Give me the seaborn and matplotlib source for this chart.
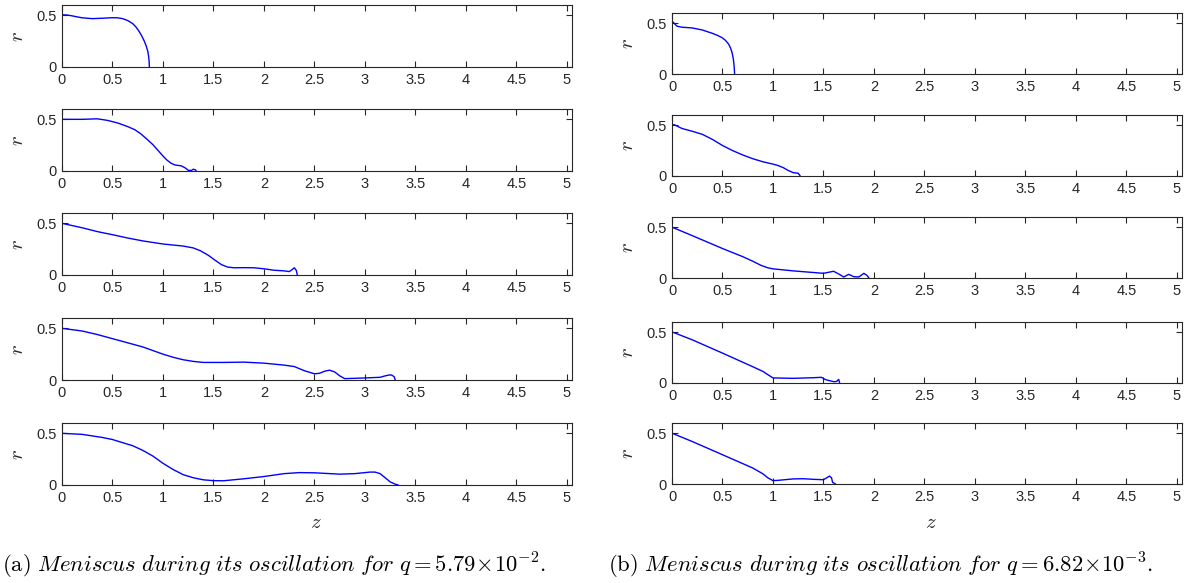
import numpy as np
import pandas as pd
import matplotlib
matplotlib.use("Agg")
import matplotlib.pyplot as plt
import seaborn as sns

# ---------------- data ----------------
# (a) q = 5.79e-2
z_a1 = [0, 0.05, 0.1, 0.15, 0.2, 0.3, 0.4, 0.5, 0.55, 0.6, 0.65, 0.7, 0.73, 0.76, 0.79, 0.815, 0.835, 0.85, 0.858, 0.863, 0.865]
r_a1 = [0.505, 0.503, 0.495, 0.485, 0.476, 0.468, 0.472, 0.477, 0.476, 0.468, 0.45, 0.42, 0.39, 0.35, 0.30, 0.25, 0.20, 0.15, 0.10, 0.05, 0.0]

z_a2 = [0, 0.2, 0.35, 0.45, 0.55, 0.65, 0.72, 0.78, 0.85, 0.9, 0.95, 1.0, 1.04, 1.08, 1.12, 1.18, 1.22, 1.25, 1.28, 1.3, 1.32, 1.33]
r_a2 = [0.50, 0.50, 0.505, 0.49, 0.465, 0.43, 0.40, 0.36, 0.30, 0.255, 0.20, 0.145, 0.105, 0.075, 0.058, 0.05, 0.03, 0.007, 0.005, 0.017, 0.012, 0.0]

z_a3 = [0, 0.2, 0.35, 0.5, 0.65, 0.8, 1.0, 1.2, 1.3, 1.37, 1.45, 1.52, 1.58, 1.64, 1.7, 1.8, 1.9, 2.0, 2.1, 2.2, 2.25, 2.28, 2.3, 2.32, 2.33]
r_a3 = [0.50, 0.457, 0.42, 0.39, 0.358, 0.33, 0.30, 0.28, 0.262, 0.235, 0.19, 0.14, 0.10, 0.077, 0.07, 0.071, 0.07, 0.06, 0.046, 0.04, 0.033, 0.053, 0.07, 0.045, 0.0]

z_a4 = [0, 0.2, 0.35, 0.5, 0.65, 0.8, 1.0, 1.1, 1.2, 1.3, 1.4, 1.6, 1.8, 2.0, 2.2, 2.3, 2.4, 2.5, 2.55, 2.6, 2.65, 2.7, 2.75, 2.8, 3.0, 3.15, 3.2, 3.25, 3.27, 3.29, 3.3]
r_a4 = [0.50, 0.474, 0.44, 0.40, 0.36, 0.32, 0.25, 0.22, 0.196, 0.18, 0.17, 0.17, 0.173, 0.163, 0.144, 0.13, 0.09, 0.06, 0.065, 0.085, 0.095, 0.078, 0.04, 0.013, 0.02, 0.026, 0.04, 0.05, 0.045, 0.03, 0.0]

z_a5 = [0, 0.2, 0.4, 0.5, 0.6, 0.7, 0.8, 0.9, 1.0, 1.1, 1.2, 1.3, 1.4, 1.5, 1.6, 1.8, 2.0, 2.2, 2.35, 2.5, 2.75, 2.9, 3.05, 3.1, 3.15, 3.2, 3.25, 3.3, 3.33]
r_a5 = [0.50, 0.49, 0.46, 0.44, 0.41, 0.38, 0.335, 0.28, 0.21, 0.15, 0.10, 0.07, 0.05, 0.042, 0.041, 0.06, 0.082, 0.11, 0.12, 0.118, 0.105, 0.11, 0.125, 0.125, 0.11, 0.07, 0.03, 0.008, 0.0]

# (b) q = 6.82e-3
z_b1 = [0, 0.01, 0.03, 0.05, 0.1, 0.2, 0.3, 0.4, 0.45, 0.5, 0.53, 0.56, 0.58, 0.595, 0.607, 0.615, 0.62]
r_b1 = [0.50, 0.51, 0.49, 0.47, 0.46, 0.453, 0.433, 0.40, 0.38, 0.355, 0.33, 0.295, 0.255, 0.21, 0.15, 0.08, 0.0]

z_b2 = [0, 0.02, 0.1, 0.2, 0.3, 0.4, 0.5, 0.6, 0.7, 0.8, 0.9, 1.0, 1.05, 1.1, 1.15, 1.2, 1.25, 1.27]
r_b2 = [0.50, 0.505, 0.467, 0.44, 0.41, 0.36, 0.30, 0.25, 0.207, 0.17, 0.14, 0.117, 0.103, 0.083, 0.055, 0.033, 0.027, 0.0]

z_b3 = [0, 0.2, 0.5, 0.7, 0.8, 0.88, 0.95, 1.0, 1.2, 1.5, 1.55, 1.6, 1.65, 1.7, 1.75, 1.8, 1.85, 1.9, 1.93, 1.95]
r_b3 = [0.50, 0.417, 0.29, 0.21, 0.165, 0.125, 0.1, 0.09, 0.07, 0.046, 0.056, 0.066, 0.04, 0.01, 0.036, 0.013, 0.01, 0.046, 0.026, 0.0]

z_b4 = [0, 0.02, 0.2, 0.5, 0.8, 0.9, 0.96, 1.0, 1.2, 1.4, 1.48, 1.52, 1.6, 1.63, 1.65, 1.655, 1.66]
r_b4 = [0.50, 0.495, 0.425, 0.294, 0.16, 0.114, 0.075, 0.05, 0.046, 0.052, 0.056, 0.033, 0.013, 0.015, 0.036, 0.02, 0.0]

z_b5 = [0, 0.2, 0.5, 0.8, 0.9, 0.95, 1.0, 1.05, 1.2, 1.3, 1.4, 1.5, 1.53, 1.56, 1.58, 1.59, 1.62]
r_b5 = [0.50, 0.418, 0.288, 0.157, 0.10, 0.06, 0.033, 0.036, 0.05, 0.052, 0.046, 0.042, 0.06, 0.078, 0.06, 0.016, 0.0]

x_ticks = [0, 0.5, 1, 1.5, 2, 2.5, 3, 3.5, 4, 4.5, 5]
x_tick_labels = ["0", "0.5", "1", "1.5", "2", "2.5", "3", "3.5", "4", "4.5", "5"]
y_ticks = [0, 0.5]
y_tick_labels = ["0", "0.5"]

caption_a = r"$\mathrm{(a)}\ \mathit{Meniscus\ during\ its\ oscillation\ for}\ q = 5.79\!\times\!10^{-2}.$"
caption_b = r"$\mathrm{(b)}\ \mathit{Meniscus\ during\ its\ oscillation\ for}\ q = 6.82\!\times\!10^{-3}.$"

panels_a = [(z_a1, r_a1), (z_a2, r_a2), (z_a3, r_a3), (z_a4, r_a4), (z_a5, r_a5)]
panels_b = [(z_b1, r_b1), (z_b2, r_b2), (z_b3, r_b3), (z_b4, r_b4), (z_b5, r_b5)]

# ---------------- style ----------------
sns.set_theme(style="ticks")
plt.rcParams["font.family"] = ["Liberation Sans", "DejaVu Sans"]
plt.rcParams["mathtext.fontset"] = "cm"

W, H = 1200, 583
fig = plt.figure(figsize=(W / 100, H / 100), dpi=100)
fig.patch.set_facecolor("white")

ax_w = 510
col_left = [62, 672]
tops = [[5, 109, 213, 318, 423], [13, 115, 217, 322, 423]]
heights = [62, 61]
edge = "#262626"

for c, panels in enumerate([panels_a, panels_b]):
    for i, (zz, rr) in enumerate(panels):
        top = tops[c][i]
        h = heights[c]
        ax = fig.add_axes([col_left[c] / W, 1 - (top + h) / H, ax_w / W, h / H])
        df = pd.DataFrame({"z": zz, "r": rr})
        sns.lineplot(data=df, x="z", y="r", ax=ax, sort=False, estimator=None,
                     color="#0000ff", linewidth=1.0)
        ax.set_xlim(0, 5.05)
        ax.set_ylim(0, 0.6)
        ax.set_xticks(x_ticks)
        ax.set_xticklabels(x_tick_labels)
        ax.set_yticks(y_ticks)
        ax.set_yticklabels(y_tick_labels)
        ax.tick_params(direction="in", length=4, width=0.8, colors=edge,
                       labelsize=10.5, top=True, right=True, pad=4)
        for s in ax.spines.values():
            s.set_visible(True)
            s.set_color(edge)
            s.set_linewidth(0.8)
        ax.set_xlabel("")
        ax.set_ylabel(r"$r$", fontsize=15, color="#262626", rotation=90)
        ax.yaxis.set_label_coords(-0.068, 0.5)

fig.text(316 / W, 1 - 522 / H, r"$z$", fontsize=15, ha="center", va="center", color="#262626")
fig.text(931 / W, 1 - 522 / H, r"$z$", fontsize=15, ha="center", va="center", color="#262626")

fig.text(2 / W, 1 - 566 / H, caption_a, fontsize=16.3, ha="left", va="center", color="black")
fig.text(608 / W, 1 - 566 / H, caption_b, fontsize=16.3, ha="left", va="center", color="black")

fig.savefig("out.png", dpi=100, facecolor="white")
